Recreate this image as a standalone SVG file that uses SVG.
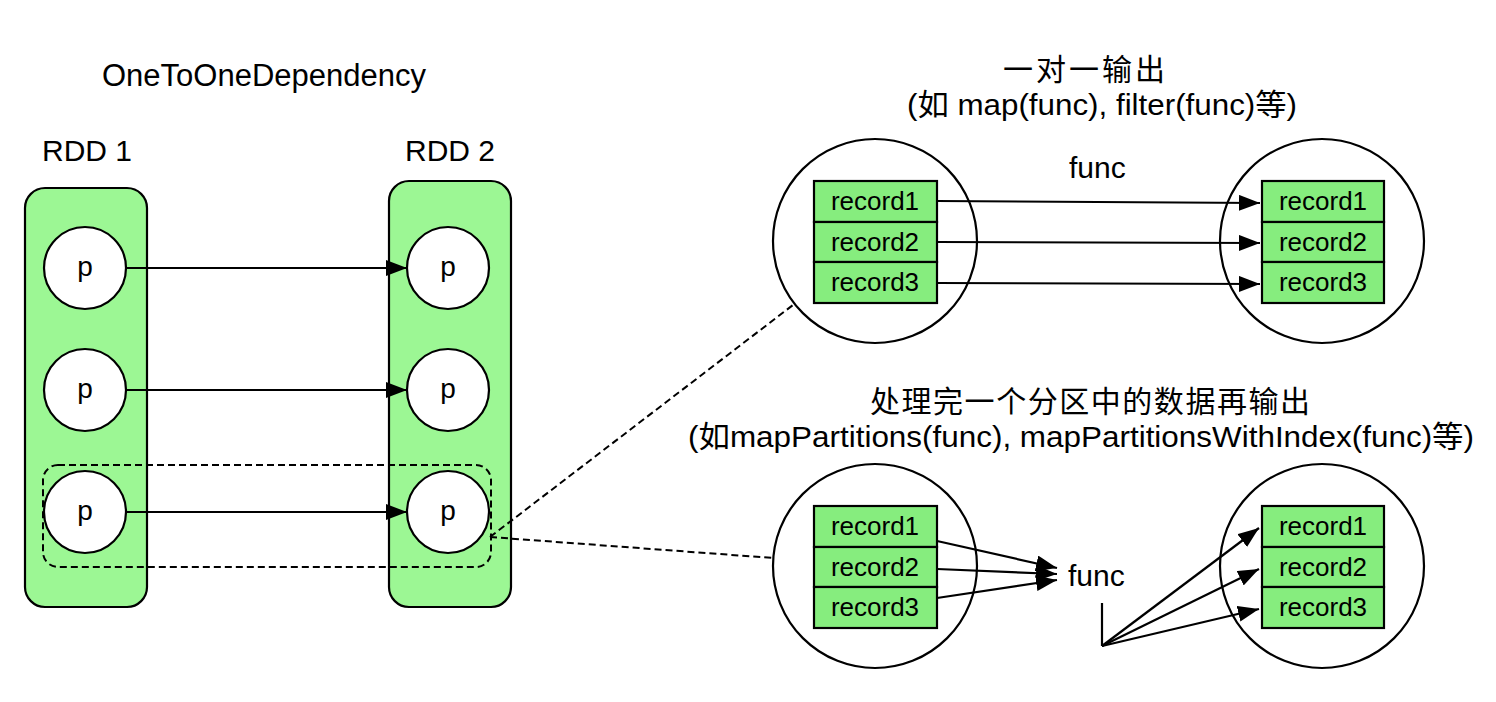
<svg xmlns="http://www.w3.org/2000/svg" width="1496" height="702" viewBox="0 0 1496 702">
<defs>
<style>
text{font-family:"Liberation Sans","Noto Sans CJK SC",Arial,sans-serif;fill:#000}
.lbl{font-size:30px}
.rec{font-size:26px;text-anchor:middle}
.p{font-size:28px;text-anchor:middle}
.rdd{fill:#9cf794;stroke:#000;stroke-width:2.2}
.part{fill:#fff;stroke:#000;stroke-width:2.2}
.box{fill:#86ed7e;stroke:#000;stroke-width:2.2}
.ell{fill:#fff;stroke:#000;stroke-width:2.2}
.arr{stroke:#000;stroke-width:2.2;fill:none;marker-end:url(#ah)}
.ln{stroke:#000;stroke-width:2.2;fill:none}
.dash{stroke:#000;stroke-width:2;fill:none;stroke-dasharray:7 4}
</style>
<marker id="ah" markerUnits="userSpaceOnUse" markerWidth="21" markerHeight="16" refX="21" refY="8" orient="auto">
<path d="M0,0 L21,8 L0,16 z" fill="#000"/>
</marker>
</defs>
<rect width="1496" height="702" fill="#fff"/>

<g id="titles">
<text class="lbl" x="264" y="86" text-anchor="middle" style="font-size:31px">OneToOneDependency</text>
<text class="lbl" x="87" y="161" text-anchor="middle">RDD 1</text>
<text class="lbl" x="450" y="161" text-anchor="middle">RDD 2</text>
<text class="lbl" x="1003" y="80" textLength="162" lengthAdjust="spacing">一对一输出</text>
<text class="lbl" x="907" y="115" textLength="390" lengthAdjust="spacingAndGlyphs">(如 map(func), filter(func)等)</text>
<text class="lbl" x="870" y="412" textLength="440" lengthAdjust="spacing">处理完一个分区中的数据再输出</text>
<text class="lbl" x="688" y="447" textLength="786" lengthAdjust="spacingAndGlyphs">(如mapPartitions(func), mapPartitionsWithIndex(func)等)</text>
</g>

<g id="rdd1">
<rect class="rdd" x="25" y="188" width="122" height="419" rx="20"/>
<circle class="part" cx="85" cy="268" r="41"/><text class="p" x="85" y="276">p</text>
<circle class="part" cx="85" cy="390" r="41"/><text class="p" x="85" y="398">p</text>
<circle class="part" cx="85" cy="512" r="41"/><text class="p" x="85" y="520">p</text>
</g>

<g id="rdd2">
<rect class="rdd" x="389" y="181" width="122" height="426" rx="20"/>
<circle class="part" cx="448" cy="268" r="41"/><text class="p" x="448" y="276">p</text>
<circle class="part" cx="448" cy="390" r="41"/><text class="p" x="448" y="398">p</text>
<circle class="part" cx="448" cy="512" r="41"/><text class="p" x="448" y="520">p</text>
</g>

<g id="top-src">
<circle class="ell" cx="875" cy="241" r="102"/>
<rect class="box" x="814" y="181" width="123" height="41"/><text class="rec" x="875" y="210">record1</text>
<rect class="box" x="814" y="222" width="123" height="40"/><text class="rec" x="875" y="251">record2</text>
<rect class="box" x="814" y="262" width="123" height="41"/><text class="rec" x="875" y="291">record3</text>
</g>

<g id="top-dst">
<circle class="ell" cx="1322" cy="241" r="102"/>
<rect class="box" x="1262" y="181" width="122" height="41"/><text class="rec" x="1323" y="210">record1</text>
<rect class="box" x="1262" y="222" width="122" height="40"/><text class="rec" x="1323" y="251">record2</text>
<rect class="box" x="1262" y="262" width="122" height="41"/><text class="rec" x="1323" y="291">record3</text>
</g>
<g id="top-func"><text class="lbl" x="1069" y="178">func</text></g>

<g id="bot-src">
<circle class="ell" cx="875" cy="566" r="102"/>
<rect class="box" x="814" y="506" width="123" height="41"/><text class="rec" x="875" y="535">record1</text>
<rect class="box" x="814" y="547" width="123" height="40"/><text class="rec" x="875" y="576">record2</text>
<rect class="box" x="814" y="587" width="123" height="41"/><text class="rec" x="875" y="616">record3</text>
</g>

<g id="bot-dst">
<circle class="ell" cx="1322" cy="566" r="102"/>
<rect class="box" x="1262" y="506" width="122" height="41"/><text class="rec" x="1323" y="535">record1</text>
<rect class="box" x="1262" y="547" width="122" height="40"/><text class="rec" x="1323" y="576">record2</text>
<rect class="box" x="1262" y="587" width="122" height="41"/><text class="rec" x="1323" y="616">record3</text>
</g>
<g id="bot-func"><text class="lbl" x="1068" y="586">func</text></g>

<g id="connectors">
<line class="arr" x1="126" y1="268" x2="407" y2="268"/>
<line class="arr" x1="126" y1="390" x2="407" y2="390"/>
<line class="arr" x1="126" y1="512" x2="407" y2="512"/>
<rect class="dash" x="43" y="465" width="448" height="102" rx="15"/>
<line class="dash" x1="490" y1="537" x2="793" y2="305"/>
<line class="dash" x1="490" y1="537" x2="773" y2="558"/>
<line class="arr" x1="937" y1="201" x2="1260" y2="203"/>
<line class="arr" x1="937" y1="242" x2="1260" y2="243"/>
<line class="arr" x1="937" y1="283" x2="1260" y2="284"/>
<line class="arr" x1="937" y1="541" x2="1057" y2="568"/>
<line class="arr" x1="937" y1="569" x2="1057" y2="574"/>
<line class="arr" x1="937" y1="598" x2="1057" y2="580"/>
<polyline class="ln" points="1102,603 1102,646"/>
<line class="arr" x1="1102" y1="646" x2="1259" y2="528"/>
<line class="arr" x1="1102" y1="646" x2="1259" y2="569"/>
<line class="arr" x1="1102" y1="646" x2="1259" y2="609"/>
</g>
</svg>
